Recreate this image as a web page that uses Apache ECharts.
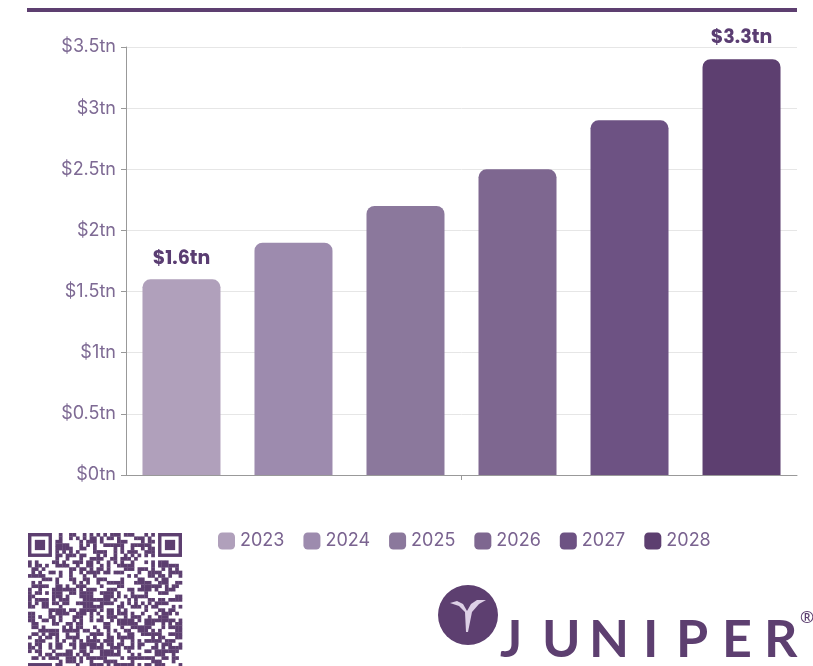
<!DOCTYPE html>
<html><head><meta charset="utf-8">
<script src="https://cdn.jsdelivr.net/npm/echarts@6/dist/echarts.min.js"></script>
<style>html,body{margin:0;padding:0;background:#fff}#c{width:813px;height:666px}</style>
</head><body><div id="c"></div>
<script>
const years = ['2023','2024','2025','2026','2027','2028'];
const values = [1.6, 1.9, 2.2, 2.5, 2.9, 3.4];
const barLabels = ['$1.6tn', '', '', '', '', '$3.3tn'];
const colors = ['#b0a0bb','#9d8bae','#8b789c','#7e6790','#6d5283','#5d3f70'];
const yTicks = [0, 0.5, 1, 1.5, 2, 2.5, 3, 3.5];

const series = years.map((y, i) => ({
  name: y,
  type: 'bar',
  data: [values[i]],
  barWidth: 78,
  barGap: '43.6%',
  itemStyle: { color: colors[i], borderRadius: [8, 8, 0, 0] },
  label: {
    show: barLabels[i] !== '',
    position: 'top',
    distance: 11,
    formatter: () => barLabels[i],
    color: '#5a3d72',
    fontFamily: 'Poppins, Inter, sans-serif',
    fontWeight: 'bold',
    fontSize: 19
  }
}));

// QR-like decorative pattern
function qrGraphic() {
  const els = [];
  const n = 45, x0 = 28, y0 = 533, m = 154 / n;
  const col = '#5d3f70';
  function finder(cx, cy) {
    els.push({type:'rect', shape:{x:x0+cx*m, y:y0+cy*m, width:7*m, height:7*m}, style:{fill:col}});
    els.push({type:'rect', shape:{x:x0+(cx+1)*m, y:y0+(cy+1)*m, width:5*m, height:5*m}, style:{fill:'#fff'}});
    els.push({type:'rect', shape:{x:x0+(cx+2)*m, y:y0+(cy+2)*m, width:3*m, height:3*m}, style:{fill:col}});
  }
  function inFinder(r, c) {
    return (r < 8 && c < 8) || (r < 8 && c >= n - 8) || (r >= n - 8 && c < 8);
  }
  let h = 12345;
  for (let r = 0; r < n; r++) {
    for (let c = 0; c < n; c++) {
      h = (h * 1103515245 + 12345) & 0x7fffffff;
      if (inFinder(r, c)) continue;
      if ((h >> 16) % 2 === 0) {
        els.push({type:'rect', shape:{x:x0+c*m, y:y0+r*m, width:m+0.3, height:m+0.3}, style:{fill:col}});
      }
    }
  }
  finder(0, 0); finder(n - 7, 0); finder(0, n - 7);
  return els;
}

const logoLetters = ['J','U','N','I','P','E','R'];
const letterX = [500, 542, 589, 643, 676, 722, 764];

const graphic = [
  { type: 'rect', shape: { x: 27, y: 8, width: 770, height: 4 }, style: { fill: '#5d3f70' } },
  { type: 'group', children: qrGraphic() },
  { type: 'circle', shape: { cx: 468, cy: 615, r: 30 }, style: { fill: '#5d3f70' } },
  { type: 'polygon', shape: { points: [[450,603],[457,601],[463,604],[467,611],[471,604],[477,600],[486,600],[479,604],[472,612],[468,632],[466,632],[465,612],[459,606]] }, style: { fill: '#ddd0e6' } },
  ...logoLetters.map((l, i) => ({
    type: 'text', x: letterX[i], y: 666,
    style: { text: l, fill: '#5d3f70', font: 'bold 52px "Lato", "Noto Sans", sans-serif', verticalAlign: 'bottom', align: 'left' }
  })),
  { type: 'text', x: 800, y: 610, style: { text: '®', fill: '#5d3f70', font: '17px "Noto Sans", sans-serif' } }
];

const chart = echarts.init(document.getElementById('c'));
chart.setOption({
  animation: false,
  grid: { left: 126, right: 16, top: 47, bottom: 191 },
  legend: {
    data: years,
    top: 527,
    left: 213,
    itemWidth: 17,
    itemHeight: 17,
    itemGap: 19,
    icon: 'roundRect',
    textStyle: { color: '#7a6390', fontSize: 18, fontFamily: 'Inter, "Noto Sans", sans-serif' }
  },
  xAxis: {
    type: 'category',
    data: [''],
    axisLine: { lineStyle: { color: '#999' } },
    axisTick: { show: true, alignWithLabel: true, length: 5, lineStyle: { color: '#999' } },
    axisLabel: { show: false }
  },
  yAxis: {
    type: 'value',
    min: 0, max: 3.5, interval: 0.5,
    axisLine: { show: true, lineStyle: { color: '#999' } },
    axisTick: { show: true, length: 5, lineStyle: { color: '#999' } },
    axisLabel: {
      formatter: v => '$' + v + 'tn',
      color: '#7e6a94',
      fontSize: 18,
      margin: 10,
      fontFamily: 'Inter, "Noto Sans", sans-serif'
    },
    splitLine: { lineStyle: { color: '#e6e6e6' } }
  },
  series: series,
  graphic: graphic
});
</script>
</body></html>
